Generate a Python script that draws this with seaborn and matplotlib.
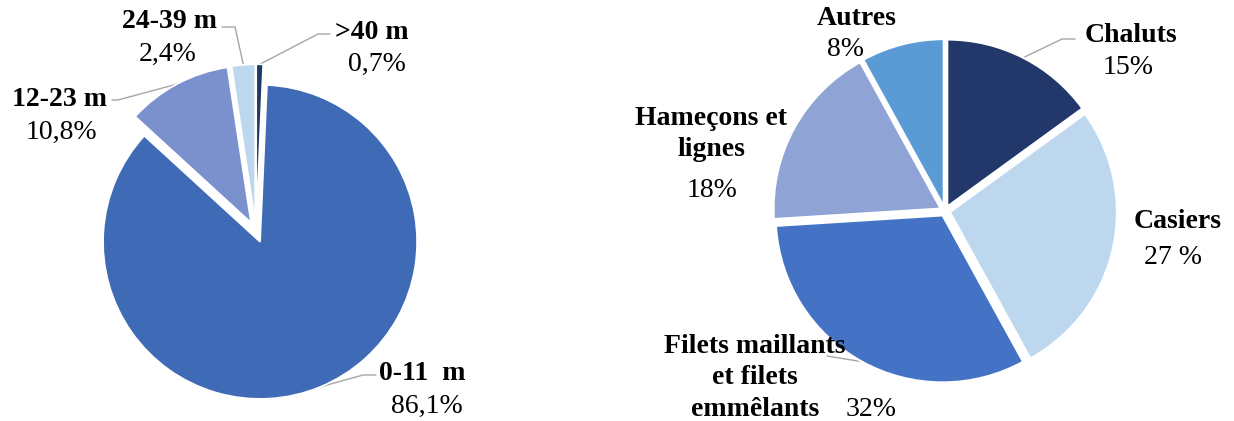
import numpy as np
import seaborn as sns
import matplotlib.pyplot as plt

# data
size_labels = [">40 m", "0-11  m", "12-23 m", "24-39 m"]
size_values = [0.7, 86.1, 10.8, 2.4]
size_pct = ["0,7%", "86,1%", "10,8%", "2,4%"]
size_colors = ["#203864", "#3F6AB6", "#7A91CD", "#BDD7EE"]

gear_labels = ["Chaluts", "Casiers", "Filets maillants\net filets\nemmêlants",
               "Hameçons et\nlignes", "Autres"]
gear_values = [15, 27, 32, 18, 8]
gear_pct = ["15%", "27 %", "32%", "18%", "8%"]
gear_colors = ["#22386A", "#BDD7EE", "#4472C4", "#8FA3D4", "#5B9BD5"]

sns.set_style("white")
plt.rcParams['font.family'] = ['Liberation Serif', 'DejaVu Serif']
plt.rcParams['text.color'] = 'black'

W, H = 1234, 421
fig = plt.figure(figsize=(W / 100, H / 100), dpi=100)

LINE = "#A6A6A6"
FS = 20


def make_ax(x0, x1, cx, cy, r):
    # axes covering pixels x0..x1, full height; pie centre (cx, cy) px from top, radius r px
    ax = fig.add_axes([x0 / W, 0, (x1 - x0) / W, 1])
    return ax, (lambda px, py: ((px - cx) / r, (cy - py) / r)), (x0, x1, cx, cy, r)


def arc_point(w):
    ang = np.deg2rad((w.theta1 + w.theta2) / 2)
    return w.center[0] + w.r * np.cos(ang), w.center[1] + w.r * np.sin(ang)


def finish(ax, geo):
    x0, x1, cx, cy, r = geo
    ax.set_xlim(-(cx - x0) / r, (x1 - cx) / r)
    ax.set_ylim(-(H - cy) / r, cy / r)
    ax.set_aspect('equal')
    ax.axis('off')


# ---- left pie
ax1, p1, g1 = make_ax(0, 617, 256, 232, 157)
wedges1, _ = ax1.pie(size_values, colors=size_colors, startangle=90, counterclock=False,
                     explode=[0.068] * 4, wedgeprops=dict(edgecolor='white', linewidth=1.2))
# label layout: name centre, pct centre, elbow, line end (px)
lay1 = [((372, 33), (377, 64), (318, 34), (330, 34)),
        ((422, 374), (427, 406), (363, 375), (376, 375)),
        ((60, 100), (61, 132), (118, 100), (112, 100)),
        ((169, 22), (168, 54), (235, 27), (222, 27))]
for w, lab, pct, (nc, pc, el, en) in zip(wedges1, size_labels, size_pct, lay1):
    ax1.text(*p1(*nc), lab, ha='center', va='center', fontsize=FS, fontweight='bold')
    ax1.text(*p1(*pc), pct, ha='center', va='center', fontsize=FS)
    sx, sy = arc_point(w)
    ex, ey = p1(*el)
    tx, ty = p1(*en)
    ax1.plot([sx, ex, tx], [sy, ey, ty], color=LINE, lw=1, zorder=0)
finish(ax1, g1)

# ---- right pie
ax2, p2, g2 = make_ax(617, 1234, 945, 211, 167)
wedges2, _ = ax2.pie(gear_values, colors=gear_colors, startangle=90, counterclock=False,
                     explode=[0.03] * 5, wedgeprops=dict(edgecolor='white', linewidth=1.5))
lay2 = [((1131, 36), (1128, 68)),
        ((1178, 222), (1173, 257)),
        ((755, 378), (871, 409)),
        ((711, 134), (712, 191)),
        ((857, 19), (846, 50))]
for w, lab, pct, (nc, pc) in zip(wedges2, gear_labels, gear_pct, lay2):
    ax2.text(*p2(*nc), lab, ha='center', va='center', fontsize=FS, fontweight='bold',
             linespacing=1.35)
    ax2.text(*p2(*pc), pct, ha='center', va='center', fontsize=FS)

# leader lines for Chaluts and Filets
sx, sy = arc_point(wedges2[0])
ax2.plot([sx, p2(1062, 39)[0], p2(1075, 39)[0]], [sy, p2(1062, 39)[1], p2(1075, 39)[1]],
         color=LINE, lw=1, zorder=0)
sx, sy = arc_point(wedges2[2])
ax2.plot([sx, p2(827, 356)[0]], [sy, p2(827, 356)[1]], color=LINE, lw=1, zorder=0)
finish(ax2, g2)

fig.savefig("out.png", dpi=100)
